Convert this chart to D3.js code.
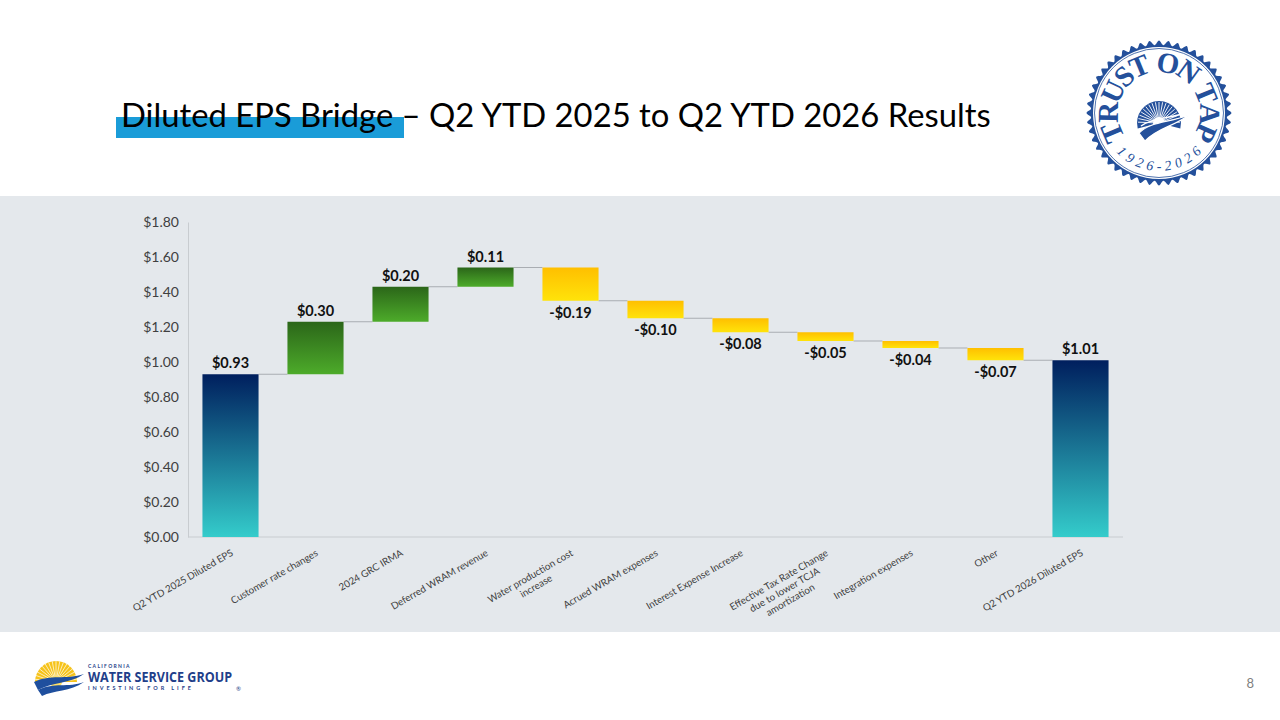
<!DOCTYPE html>
<html lang="en">
  <head>
    <meta charset="utf-8">
    <title>Diluted EPS Bridge</title>
    <script src="https://d3js.org/d3.v7.js"></script>
    <style>
      body { margin: 0; background: #fff; }
      svg { display: block; }
    </style>
  </head>
  <body>
    <script>

  // data
  var categories = [
    "Q2 YTD 2025 Diluted EPS",
    "Customer rate changes",
    "2024 GRC IRMA",
    "Deferred WRAM revenue",
    "Water production cost|increase",
    "Acrued WRAM expenses",
    "Interest Expense Increase",
    "Effective Tax Rate Change|due to lower TCJA|amortization",
    "Integration expenses",
    "Other",
    "Q2 YTD 2026 Diluted EPS"
  ];
  var values = [0.93, 0.30, 0.20, 0.11, -0.19, -0.10, -0.08, -0.05, -0.04, -0.07, 1.01];
  var kinds = ["total", "up", "up", "up", "down", "down", "down", "down", "down", "down", "total"];
  var yTicks = [0, 0.2, 0.4, 0.6, 0.8, 1.0, 1.2, 1.4, 1.6, 1.8];

  var w = 1280, h = 720;
  var font = "Lato, 'Open Sans', sans-serif";

  // build waterfall rows
  var running = 0;
  var rows = categories.map(function(c, i) {
    var v = values[i], start, end;
    if (kinds[i] === "total") { start = 0; end = v; running = v; }
    else { start = running; end = running + v; running = end; }
    return { cat: c, value: v, kind: kinds[i], start: start, end: end };
  });

  var svg = d3.select("body").append("svg")
    .attr("width", w)
    .attr("height", h);

  var defs = svg.append("defs");
  function grad(id, top, bottom) {
    var g = defs.append("linearGradient").attr("id", id)
      .attr("x1", 0).attr("y1", 0).attr("x2", 0).attr("y2", 1);
    g.append("stop").attr("offset", "0%").attr("stop-color", top);
    g.append("stop").attr("offset", "100%").attr("stop-color", bottom);
  }
  grad("g-total", "#001f5e", "#34cccb");
  grad("g-up", "#2b6619", "#4dab2a");
  grad("g-down", "#ffbf00", "#ffe30a");

  // background panel
  svg.append("rect")
    .attr("x", 0).attr("y", 196).attr("width", w).attr("height", 436)
    .attr("fill", "#e4e8ec");

  // title
  svg.append("rect")
    .attr("x", 116).attr("y", 117).attr("width", 288).attr("height", 21)
    .attr("fill", "#1a9cd8");
  var title = svg.append("text")
    .attr("x", 121).attr("y", 127)
    .style("font-family", font)
    .style("font-size", "29px")
    .attr("fill", "#000")
    .text("Diluted EPS Bridge \u2013 Q2 YTD 2025 to Q2 YTD 2026 Results");
  var tl = title.node().getComputedTextLength();
  title.style("font-size", (29 * 870 / tl) + "px");

  // scales
  var x = d3.scaleBand()
    .domain(categories)
    .range([188, 1123])
    .paddingInner(0.34)
    .paddingOuter(0.17);

  var y = d3.scaleLinear()
    .domain([0, 1.8])
    .range([537, 222]);

  // axes
  var yAxis = svg.append("g")
    .attr("transform", "translate(188,0)")
    .call(d3.axisLeft(y).tickValues(yTicks).tickSize(0).tickPadding(9)
      .tickFormat(function(d) { return "$" + d.toFixed(2); }));
  yAxis.select(".domain").attr("stroke", "#c8ccd0");
  yAxis.selectAll("text")
    .style("font-family", font).style("font-size", "14px").attr("fill", "#404040");

  svg.append("line")
    .attr("x1", 188).attr("x2", 1123)
    .attr("y1", y(0)).attr("y2", y(0))
    .attr("stroke", "#c8ccd0");

  // connectors
  svg.selectAll("line.conn")
    .data(rows.slice(0, -1))
    .enter().append("line")
    .attr("class", "conn")
    .attr("x1", function(d) { return x(d.cat) + x.bandwidth(); })
    .attr("x2", function(d, i) { return x(rows[i + 1].cat); })
    .attr("y1", function(d) { return y(d.end); })
    .attr("y2", function(d) { return y(d.end); })
    .attr("stroke", "#a9adb2")
    .attr("stroke-width", 1);

  // bars
  svg.selectAll("rect.bar")
    .data(rows)
    .enter().append("rect")
    .attr("class", "bar")
    .attr("x", function(d) { return x(d.cat); })
    .attr("width", x.bandwidth())
    .attr("y", function(d) { return y(Math.max(d.start, d.end)); })
    .attr("height", function(d) { return Math.abs(y(d.start) - y(d.end)); })
    .attr("fill", function(d) { return "url(#g-" + d.kind + ")"; });

  // value labels
  svg.selectAll("text.val")
    .data(rows)
    .enter().append("text")
    .attr("class", "val")
    .attr("x", function(d) { return x(d.cat) + x.bandwidth() / 2; })
    .attr("y", function(d) {
      return d.value < 0 ? y(d.end) + 17 : y(d.end) - 6;
    })
    .attr("text-anchor", "middle")
    .style("font-family", font).style("font-size", "14.5px").style("font-weight", "bold")
    .attr("fill", "#111")
    .text(function(d) {
      return (d.value < 0 ? "-$" : "$") + Math.abs(d.value).toFixed(2);
    });

  // category labels
  var lab = svg.selectAll("g.cat")
    .data(rows)
    .enter().append("g")
    .attr("class", "cat")
    .attr("transform", function(d) {
      return "translate(" + (x(d.cat) + x.bandwidth() / 2 + 1) + ",547) rotate(-30)";
    });
  lab.each(function(d) {
    var g = d3.select(this);
    var lines = d.cat.split("|");
    var t = g.append("text")
      .style("font-family", font).style("font-size", "9.8px")
      .attr("fill", "#404040")
      .attr("text-anchor", "middle");
    lines.forEach(function(l, i) {
      t.append("tspan").attr("y", 8 + i * 11.5).text(l);
    });
    var maxW = d3.max(t.selectAll("tspan").nodes(), function(n) { return n.getComputedTextLength(); });
    t.selectAll("tspan").attr("x", -maxW / 2 - 2);
  });

  // stamp logo (top right)
  var stamp = svg.append("g").attr("transform", "translate(1159,113)");
  var blue = "#24509b";
  var bumps = d3.range(0, 96).map(function(i) {
    var a = i / 96 * 2 * Math.PI;
    return [a, i % 2 ? 68 : 72.5];
  });
  stamp.append("path")
    .attr("d", d3.lineRadial().curve(d3.curveCardinalClosed)(bumps))
    .attr("fill", blue);
  stamp.append("circle").attr("r", 66).attr("fill", "#fff");
  stamp.append("circle").attr("r", 64.5).attr("fill", "none").attr("stroke", blue).attr("stroke-width", 0.8);

  // letters placed one by one around the circle
  function ringText(str, r, a0, a1, size, style, bottom) {
    var tmp = stamp.append("text")
      .style("font-family", "'Liberation Serif', 'DejaVu Serif', serif")
      .style("font-size", size + "px").style("font-weight", style.weight || "normal")
      .style("font-style", style.italic ? "italic" : "normal");
    var widths = str.split("").map(function(ch) {
      tmp.text(ch === " " ? "\u00a0" : ch);
      return tmp.node().getComputedTextLength();
    });
    tmp.remove();
    var total = d3.sum(widths), acc = 0;
    str.split("").forEach(function(ch, i) {
      var mid = (acc + widths[i] / 2) / total;
      acc += widths[i];
      if (ch === " ") return;
      var a = (a0 + (a1 - a0) * mid) * Math.PI / 180;
      var px = r * Math.sin(a), py = bottom ? r * Math.cos(a) : -r * Math.cos(a);
      var rot = bottom ? -a * 180 / Math.PI : a * 180 / Math.PI;
      stamp.append("text")
        .attr("transform", "translate(" + px + "," + py + ") rotate(" + rot + ")")
        .attr("text-anchor", "middle")
        .style("font-family", "'Liberation Serif', 'DejaVu Serif', serif")
        .style("font-size", size + "px").style("font-weight", style.weight || "normal")
        .style("font-style", style.italic ? "italic" : "normal")
        .attr("fill", blue)
        .text(ch);
    });
  }
  ringText("TRUST ON TAP", 41, -124, 124, 29, { weight: "bold" }, false);
  ringText("1926-2026", 58, -50, 50, 14, { italic: true }, true);

  // sun with rays
  stamp.append("path")
    .attr("d", d3.arc()({ innerRadius: 0, outerRadius: 22, startAngle: -Math.PI / 2 - 0.25, endAngle: Math.PI / 2 + 0.25 }))
    .attr("transform", "translate(0,10)")
    .attr("fill", blue);
  d3.range(-9, 10).forEach(function(i) {
    var a = i * 0.17;
    stamp.append("line")
      .attr("x1", 0).attr("y1", 10).attr("x2", Math.sin(a) * 21).attr("y2", 10 - Math.cos(a) * 21)
      .attr("stroke", "#fff").attr("stroke-width", 0.9);
  });
  stamp.append("circle").attr("cx", 0).attr("cy", 10).attr("r", 6).attr("fill", "#fff");
  stamp.append("path")
    .attr("d", "M -20,20 C -8,8 10,10 30,2 C 14,14 0,14 -14,28 Z")
    .attr("fill", blue).attr("stroke", "#fff").attr("stroke-width", 1.2);
  stamp.append("path")
    .attr("d", "M -18,13 C -6,4 12,6 28,-1")
    .attr("fill", "none").attr("stroke", "#fff").attr("stroke-width", 1.4);

  // bottom-left company logo
  var logo = svg.append("g").attr("transform", "translate(36,660)");
  logo.append("path")
    .attr("d", d3.arc()({ innerRadius: 0, outerRadius: 21, startAngle: -Math.PI / 2, endAngle: Math.PI / 2 }))
    .attr("transform", "translate(20,22)")
    .attr("fill", "#f6c31a");
  d3.range(-8, 9).forEach(function(i) {
    var a = i * 0.18;
    logo.append("line")
      .attr("x1", 20).attr("y1", 22).attr("x2", 20 + Math.sin(a) * 21).attr("y2", 22 - Math.cos(a) * 21)
      .attr("stroke", "#fff").attr("stroke-width", 0.7);
  });
  logo.append("circle").attr("cx", 20).attr("cy", 22).attr("r", 6).attr("fill", "#ffe066");
  logo.append("path")
    .attr("d", "M -2,22 C 14,14 30,20 48,14 C 34,24 16,22 2,30 Z")
    .attr("fill", "#1f4f9e");
  logo.append("path")
    .attr("d", "M 2,30 C 18,22 32,28 48,22 C 34,32 18,30 6,36 Z")
    .attr("fill", "#1f4f9e");
  logo.append("text").attr("x", 52).attr("y", 8)
    .style("font-family", font).style("font-size", "5px").style("font-weight", "bold")
    .attr("letter-spacing", "1.3px").attr("fill", "#1f3f8a").text("CALIFORNIA");
  logo.append("text").attr("x", 52).attr("y", 22)
    .style("font-family", "'Open Sans', sans-serif").style("font-size", "14px").style("font-weight", "bold")
    .attr("textLength", 144).attr("lengthAdjust", "spacingAndGlyphs")
    .attr("fill", "#1f3f8a").text("WATER SERVICE GROUP");
  logo.append("text").attr("x", 52).attr("y", 30)
    .style("font-family", font).style("font-size", "5.5px").style("font-weight", "bold")
    .attr("letter-spacing", "2.9px").attr("fill", "#1f3f8a").text("INVESTING FOR LIFE");
  logo.append("text").attr("x", 200).attr("y", 31)
    .style("font-family", font).style("font-size", "6px").attr("fill", "#1f3f8a").text("\u00ae");

  // page number
  svg.append("text")
    .attr("x", 1254).attr("y", 688)
    .attr("text-anchor", "end")
    .style("font-family", font).style("font-size", "13px")
    .attr("fill", "#808080")
    .text("8");

    </script>
  </body>
</html>
